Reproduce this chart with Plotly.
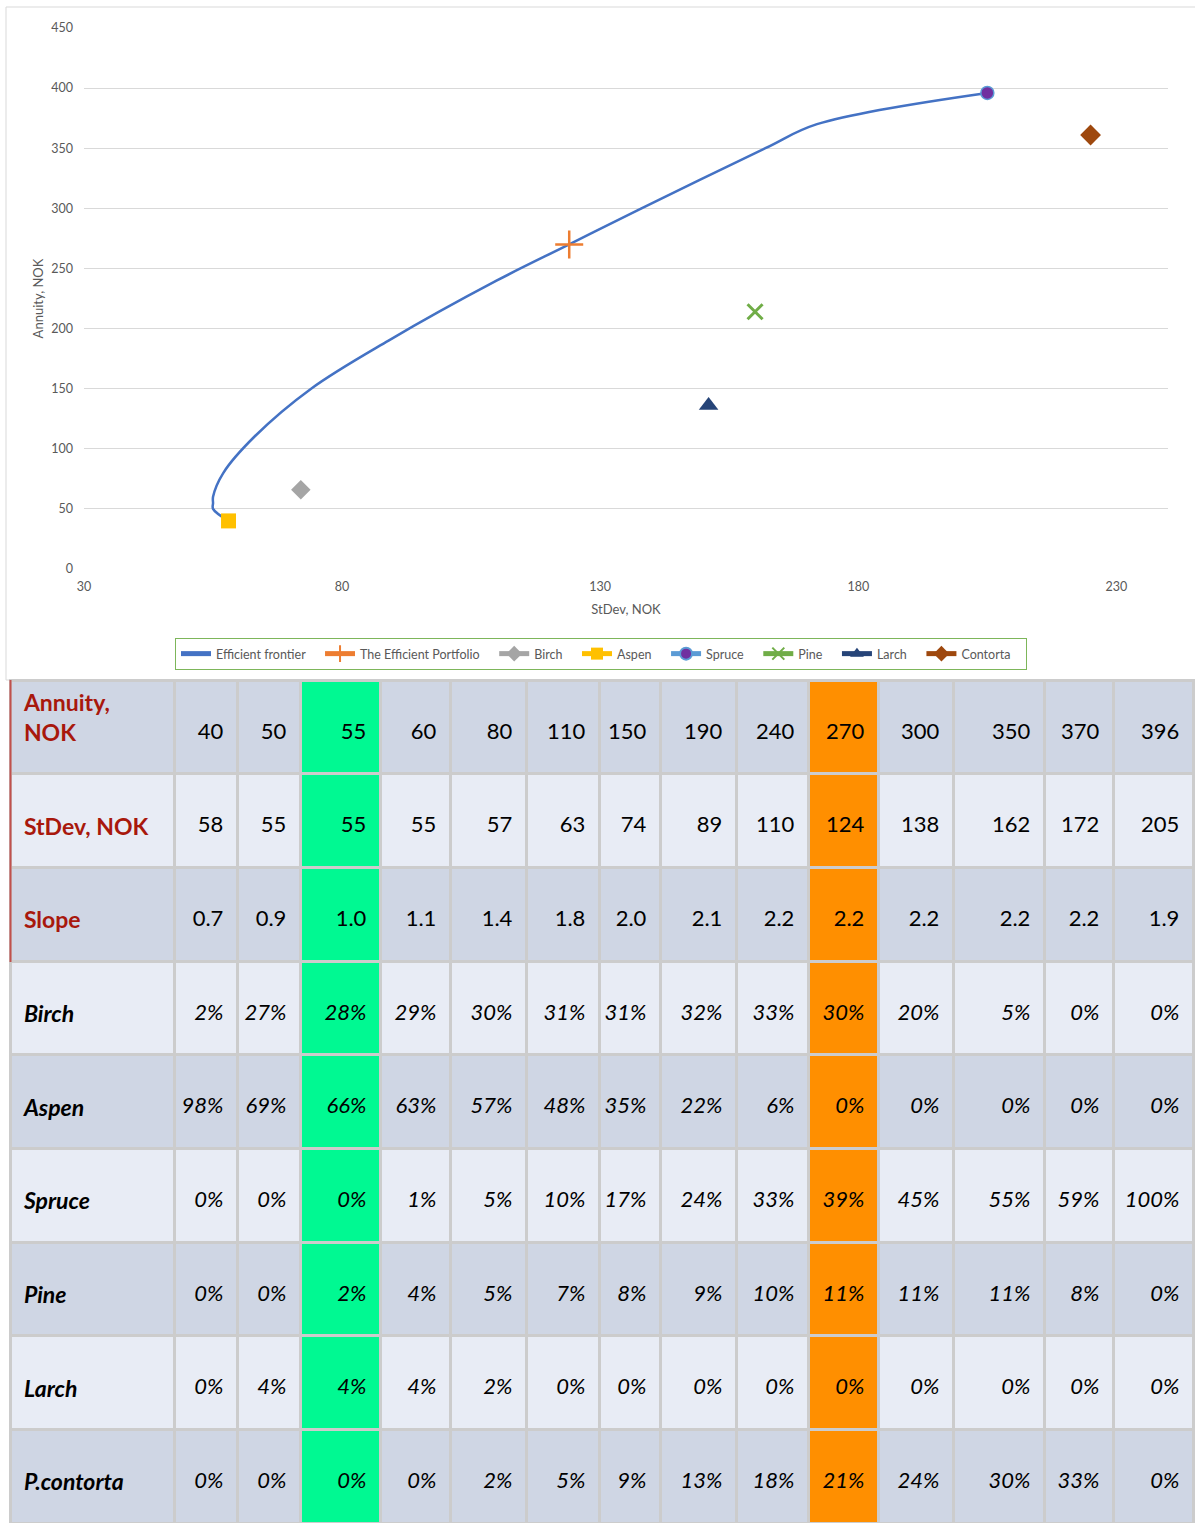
import plotly.graph_objects as go

# Efficient frontier: portfolio annuity and standard deviation (NOK)
annuity = [40, 50, 55, 60, 80, 110, 150, 190, 240, 270, 300, 350, 370, 396]
stdev = [58, 55, 55, 55, 57, 63, 74, 89, 110, 124, 138, 162, 172, 205]
slope = [0.7, 0.9, 1.0, 1.1, 1.4, 1.8, 2.0, 2.1, 2.2, 2.2, 2.2, 2.2, 2.2, 1.9]

# Species shares (%) along the frontier
birch = [2, 27, 28, 29, 30, 31, 31, 32, 33, 30, 20, 5, 0, 0]
aspen = [98, 69, 66, 63, 57, 48, 35, 22, 6, 0, 0, 0, 0, 0]
spruce = [0, 0, 0, 1, 5, 10, 17, 24, 33, 39, 45, 55, 59, 100]
pine = [0, 0, 2, 4, 5, 7, 8, 9, 10, 11, 11, 11, 8, 0]
larch = [0, 4, 4, 4, 2, 0, 0, 0, 0, 0, 0, 0, 0, 0]
contorta = [0, 0, 0, 0, 2, 5, 9, 13, 18, 21, 24, 30, 33, 0]

# Single-species stands (StDev, Annuity)
species_names = ["Birch", "Aspen", "Spruce", "Pine", "Larch", "Contorta"]
species_stdev = [72, 58, 205, 160, 151, 225]
species_annuity = [66, 40, 396, 214, 136, 361]

# Column index of the minimum-risk portfolio and of the efficient portfolio
min_risk_col = 2
efficient_col = 9

x_ticks = [30, 80, 130, 180, 230]
y_ticks = [0, 50, 100, 150, 200, 250, 300, 350, 400, 450]

W, H = 1195, 1523
FONT = "Lato"
AXIS_GREY = "#595959"
NB = "\u00a0"
LEGEND_PAD = NB * 3  # extra room after each legend entry

species_style = {
    "Birch": dict(symbol="diamond", size=15, color="#A5A5A5", line=dict(width=0)),
    "Aspen": dict(symbol="square", size=15, color="#FFC000", line=dict(width=0)),
    "Spruce": dict(symbol="circle", size=13, color="#7030A0",
                   line=dict(width=1.5, color="#5B9BD5")),
    "Pine": dict(symbol="x-thin", size=15, color="#70AD47",
                 line=dict(width=3, color="#70AD47")),
    "Larch": dict(symbol="triangle-up", size=17, color="#264478", line=dict(width=0)),
    "Contorta": dict(symbol="diamond", size=16, color="#9E480E", line=dict(width=0)),
}
legend_line_colors = {
    "Birch": "#A5A5A5", "Aspen": "#FFC000", "Spruce": "#5B9BD5",
    "Pine": "#70AD47", "Larch": "#264478", "Contorta": "#9E480E",
}

fig = go.Figure()

fig.add_trace(go.Scatter(
    x=stdev, y=annuity, mode="lines", name="Efficient frontier" + LEGEND_PAD,
    line=dict(color="#4472C4", width=2.5, shape="spline", smoothing=1.0),
))
fig.add_trace(go.Scatter(
    x=[stdev[efficient_col]], y=[annuity[efficient_col]], mode="lines+markers",
    name="The Efficient Portfolio" + LEGEND_PAD,
    line=dict(color="#ED7D31", width=2.5),
    marker=dict(symbol="cross-thin", size=20, color="#ED7D31",
                line=dict(width=2.5, color="#ED7D31")),
))
for name, sx, sy in zip(species_names, species_stdev, species_annuity):
    fig.add_trace(go.Scatter(
        x=[sx], y=[sy], mode="lines+markers", name=name + LEGEND_PAD,
        line=dict(color=legend_line_colors[name], width=2.5),
        marker=species_style[name],
    ))

# ---- table under the chart ----
row_labels = ["Annuity,<br>NOK", "StDev, NOK", "Slope", "Birch", "Aspen",
              "Spruce", "Pine", "Larch", "P.contorta"]
share_rows = [birch, aspen, spruce, pine, larch, contorta]

rows_text = []
rows_text.append([f"{v}{NB}" for v in annuity])
rows_text.append([f"{v}{NB}" for v in stdev])
rows_text.append([f"{v:.1f}{NB}" for v in slope])
for r in share_rows:
    rows_text.append([f"<i>{v}%</i>{NB}" for v in r])

label_cells = []
for i, lab in enumerate(row_labels):
    lines = lab.split("<br>")
    if i < 3:
        label_cells.append("<br>".join(f"{NB}<b>{t}</b>" for t in lines))
    else:
        label_cells.append("<br>".join(f"{NB}<b><i>{t}</i></b>" for t in lines))

n_rows = len(row_labels)
n_cols = len(annuity)
DARK = "#CFD6E4"
LIGHT = "#E8ECF5"
GREEN = "#00F992"
ORANGE = "#FF8F00"
LABEL_RED = "#A8180C"

def row_fill(i):
    return DARK if i % 2 == 0 else LIGHT

columns = [label_cells] + [[rows_text[i][j] for i in range(n_rows)] for j in range(n_cols)]
fills = [[row_fill(i) for i in range(n_rows)]]
for j in range(n_cols):
    if j == min_risk_col:
        fills.append([GREEN] * n_rows)
    elif j == efficient_col:
        fills.append([ORANGE] * n_rows)
    else:
        fills.append([row_fill(i) for i in range(n_rows)])
font_colors = [[LABEL_RED if i < 3 else "#000000" for i in range(n_rows)]] + \
              [["#000000"] * n_rows for _ in range(n_cols)]
font_sizes = [23] + [22] * n_cols

col_widths = [164, 63, 63, 80, 70, 76, 73, 61, 76, 72, 70, 75, 91, 69, 80]
ROW_H = 93.7
table_top = 680


def centered(v):
    # a blank first line pushes single-line text to the middle of the row
    return v if "<br>" in v else NB + "<br>" + v


header_vals = [centered(c[0]) for c in columns]
cell_vals = [[centered(v) for v in c[1:]] for c in columns]

fig.add_trace(go.Table(
    domain=dict(x=[10 / W, 1193 / W], y=[0, (H - table_top) / H]),
    columnwidth=col_widths,
    header=dict(
        values=header_vals,
        fill_color=[f[0] for f in fills],
        font=dict(family=FONT, size=font_sizes, color=[c[0] for c in font_colors]),
        align=["left"] + ["right"] * n_cols,
        line=dict(color="#CCCCCC", width=3),
        height=ROW_H,
    ),
    cells=dict(
        values=cell_vals,
        fill_color=[f[1:] for f in fills],
        font=dict(family=FONT, size=font_sizes, color=[c[1:] for c in font_colors]),
        align=["left"] + ["right"] * n_cols,
        line=dict(color="#CCCCCC", width=3),
        height=ROW_H,
    ),
))

plot_left, plot_right = 84, 1168
plot_top, plot_bottom = 28, 569

fig.update_layout(
    width=W, height=H,
    margin=dict(l=0, r=0, t=0, b=0),
    paper_bgcolor="white", plot_bgcolor="white",
    font=dict(family=FONT, color=AXIS_GREY),
    showlegend=True,
    legend=dict(
        orientation="h", x=601 / W, y=(H - 654) / H,
        xanchor="center", yanchor="middle",
        bordercolor="#7DB65A", borderwidth=1, bgcolor="white",
        font=dict(family=FONT, size=12.5, color=AXIS_GREY),
        itemsizing="constant", itemwidth=30, tracegroupgap=0,
    ),
    xaxis=dict(
        domain=[plot_left / W, plot_right / W], range=[30, 240],
        tickvals=x_ticks, showgrid=False, zeroline=False, showline=False,
        ticks="", ticklabelstandoff=8, tickfont=dict(size=12.5, color=AXIS_GREY),
        title=dict(text="StDev, NOK", font=dict(size=13, color=AXIS_GREY), standoff=12),
        automargin=False,
    ),
    yaxis=dict(
        domain=[(H - plot_bottom) / H, (H - plot_top) / H], range=[0, 450],
        tickvals=y_ticks, showgrid=True, gridcolor="#D9D9D9", gridwidth=1,
        zeroline=False, showline=False, ticks="", ticklabelstandoff=10,
        tickfont=dict(size=12.5, color=AXIS_GREY),
        title=dict(text="Annuity, NOK", font=dict(size=13, color=AXIS_GREY), standoff=4),
        automargin=False,
    ),
    shapes=[
        dict(type="rect", xref="paper", yref="paper",
             x0=6 / W, x1=1.01, y0=(H - 680) / H, y1=(H - 7) / H,
             line=dict(color="#D9D9D9", width=1), layer="below"),
        dict(type="line", xref="paper", yref="paper",
             x0=10.5 / W, x1=10.5 / W, y0=(H - 962) / H, y1=(H - 680) / H,
             line=dict(color="#C0504D", width=2)),
    ],
)

fig.write_html("out.html")
